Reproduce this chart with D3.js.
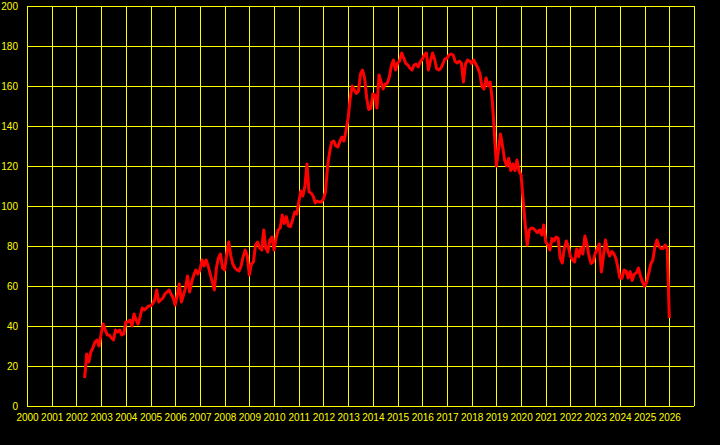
<!DOCTYPE html>
<html>
<head>
<meta charset="utf-8">
<script src="https://cdn.jsdelivr.net/npm/d3@7"></script>
<style>
  html, body { margin: 0; padding: 0; background: #000; }
  svg { display: block; }
  .tick text { font-family: "Liberation Sans", Arial, sans-serif; font-size: 10px; fill: #ffff00; }
</style>
</head>
<body>
<div id="chart"></div>
<script>
// monthly values, first point is May 2002
var startYear = 2002, startMonth = 4;
var v2002 = [14, 26, 22, 27, 29, 32, 33, 30];
var v2003 = [36, 41, 38, 35.5, 35.5, 34, 33, 38, 37, 38, 35.5, 36];
var v2004 = [42, 42, 43, 40, 46, 43, 41, 45, 49, 48, 49, 50];
var v2005 = [50, 51, 53, 58, 52, 53, 54, 56, 57, 58, 56, 54];
var v2006 = [50.5, 55.5, 61, 52, 55.5, 59, 65, 57, 62, 65.5, 68, 66];
var v2007 = [68, 73, 70, 73, 70, 66, 62, 58, 69, 74, 76, 69];
var v2008 = [68, 76, 82, 75, 71, 69, 68, 67.5, 70, 74.7, 78, 75];
var v2009 = [65.5, 71, 72, 80.5, 82, 79, 78, 88, 79, 77, 83, 84.5];
var v2010 = [78, 84, 88, 89, 95.5, 91.3, 94.7, 90, 89.7, 93, 97, 96];
var v2011 = [102, 107.5, 105, 110, 121, 107, 106.5, 105, 101.5, 102.5, 102, 102];
var v2012 = [103.5, 107, 119.7, 127, 132, 132.5, 130, 129.5, 132.5, 134.5, 132.5, 138];
var v2013 = [144, 154, 160, 158, 156.3, 157.5, 166, 168, 164, 154, 148.3, 148.8];
var v2014 = [156, 155.5, 149, 165.5, 162, 158.5, 161, 161.3, 164.5, 170, 173, 168];
var v2015 = [171.5, 172.5, 176.5, 174, 171.3, 170.5, 169, 168, 170.5, 171, 169.5, 172];
var v2016 = [173.3, 175.7, 176.5, 168, 172.5, 176.5, 173.5, 168.5, 168, 168.8, 171, 173.5];
var v2017 = [173.8, 175.5, 176, 175.5, 172.2, 171.5, 172.5, 171.5, 162, 171, 173, 172.5];
var v2018 = [171.3, 173, 171, 169, 166.3, 159.7, 158.5, 164, 160, 162, 153, 137];
var v2019 = [120, 128, 136, 130, 123, 120, 123.8, 117.7, 121, 117.7, 123, 117.5];
var v2020 = [115.5, 103, 91, 80.5, 88, 89, 88.8, 87.7, 86.7, 88, 85.5, 90.5];
var v2021 = [82, 80.5, 78, 83.8, 82.5, 84.5, 84, 74, 71.5, 78.8, 82.5, 79.5];
var v2022 = [74.7, 73, 72, 78.5, 74.7, 79, 76, 85, 81, 75, 71.3, 72];
var v2023 = [76.3, 78.5, 81, 67, 75, 83, 78, 75, 77.2, 76.3, 74, 69.5];
var v2024 = [64, 63.8, 68, 67.5, 64, 67.2, 62.8, 66, 66.5, 69, 65, 62];
var v2025 = [60, 62, 66.3, 71, 73, 79.5, 83, 80, 78.8, 78.8, 80.5, 78.5];
var v2026 = [44];

var years = d3.range(2000, 2027);
var yTicks = d3.range(0, 201, 20);

var values = [].concat(v2002, v2003, v2004, v2005, v2006, v2007, v2008, v2009,
  v2010, v2011, v2012, v2013, v2014, v2015, v2016, v2017, v2018, v2019,
  v2020, v2021, v2022, v2023, v2024, v2025, v2026);
var data = values.map(function(v, i) {
  return { t: startYear + (startMonth + i) / 12, v: v };
});

var width = 720, height = 445;
// plot box (don't call it "top", that one belongs to window)
var plotLeft = 27, plotRight = 694, plotTop = 6, plotBottom = 406;

var x = d3.scaleLinear().domain([2000, 2027]).range([plotLeft, plotRight]);
var y = d3.scaleLinear().domain([0, 200]).range([plotBottom, plotTop]);

var svg = d3.select("#chart")
  .append("svg")
  .attr("width", width)
  .attr("height", height);

svg.append("rect")
  .attr("width", width)
  .attr("height", height)
  .attr("fill", "#000");

// grid
var grid = svg.append("g")
  .attr("stroke", "#ffff00")
  .attr("stroke-width", 1)
  .attr("shape-rendering", "crispEdges");

grid.selectAll("line.v")
  .data(years.concat([2027]))
  .enter().append("line")
  .attr("class", "v")
  .attr("x1", function(d) { return Math.round(x(d)) + 0.5; })
  .attr("x2", function(d) { return Math.round(x(d)) + 0.5; })
  .attr("y1", plotTop)
  .attr("y2", plotBottom);

grid.selectAll("line.h")
  .data(yTicks)
  .enter().append("line")
  .attr("class", "h")
  .attr("x1", plotLeft)
  .attr("x2", plotRight)
  .attr("y1", function(d) { return Math.round(y(d)) + 0.5; })
  .attr("y2", function(d) { return Math.round(y(d)) + 0.5; });

// axes, labels only
var xAxis = svg.append("g")
  .attr("transform", "translate(0," + plotBottom + ")")
  .call(d3.axisBottom(x).tickValues(years).tickFormat(d3.format("d")).tickSize(0).tickPadding(8));
xAxis.select(".domain").remove();

var yAxis = svg.append("g")
  .attr("transform", "translate(" + plotLeft + ",0)")
  .call(d3.axisLeft(y).tickValues(yTicks).tickSize(0).tickPadding(9));
yAxis.select(".domain").remove();

svg.selectAll(".tick text").attr("fill", "#ffff00");

// the series
var line = d3.line()
  .x(function(d) { return x(d.t); })
  .y(function(d) { return y(d.v); });

svg.append("path")
  .datum(data)
  .attr("fill", "none")
  .attr("stroke", "#ff0000")
  .attr("stroke-width", 3)
  .attr("stroke-linejoin", "round")
  .attr("d", line);
</script>
</body>
</html>
